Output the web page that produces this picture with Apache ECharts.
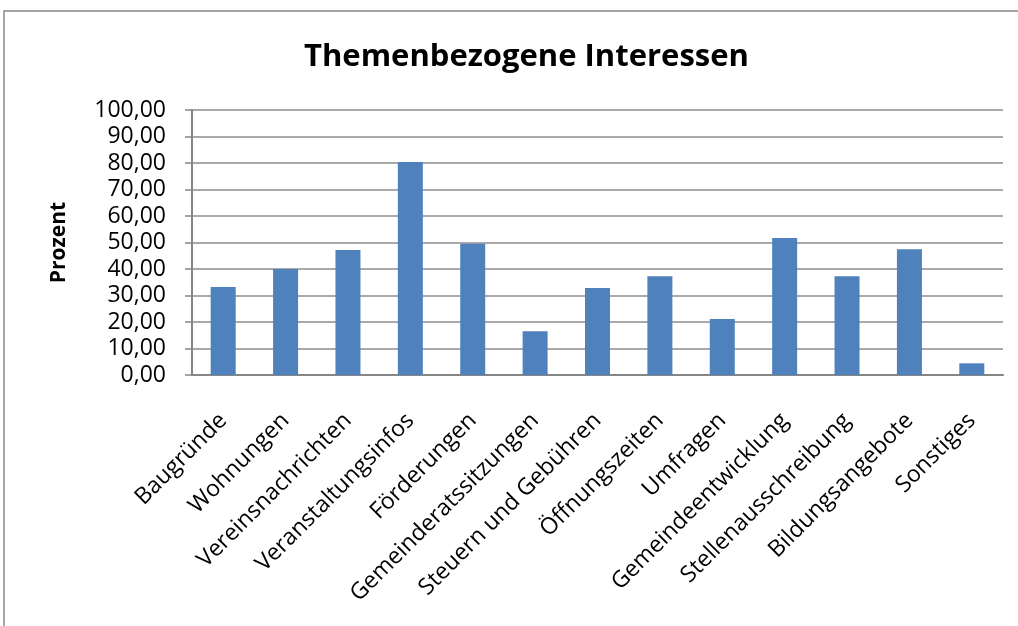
<!DOCTYPE html>
<html>
<head>
<meta charset="utf-8">
<title>Themenbezogene Interessen</title>
<script src="https://cdn.jsdelivr.net/npm/echarts@6/dist/echarts.min.js"></script>
<style>
  html, body { margin: 0; padding: 0; background: #fff; }
  #chart { width: 1018px; height: 626px; }
</style>
</head>
<body>
<div id="chart"></div>
<script>
var categories = ['Baugründe', 'Wohnungen', 'Vereinsnachrichten', 'Veranstaltungsinfos', 'Förderungen',
    'Gemeinderatssitzungen', 'Steuern und Gebühren', 'Öffnungszeiten', 'Umfragen',
    'Gemeindeentwicklung', 'Stellenausschreibung', 'Bildungsangebote', 'Sonstiges'];
var prozent = [33.2, 40.0, 47.2, 80.4, 49.5, 16.5, 32.8, 37.3, 21.1, 51.7, 37.3, 47.5, 4.4];

var dom = document.getElementById('chart');
var myChart = echarts.init(dom);
var font = 'Open Sans';

var option = {
    animation: false,
    backgroundColor: '#fff',
    title: {
        text: 'Themenbezogene Interessen',
        left: 299,
        top: 37,
        textStyle: { fontFamily: font, fontSize: 31, fontWeight: 'bold', color: '#000' }
    },
    graphic: [{
        type: 'rect',
        shape: { x: 4, y: 11, width: 1030, height: 640 },
        style: { fill: 'none', stroke: '#888', lineWidth: 1.5 },
        silent: true
    }],
    grid: { left: 192, right: 15, top: 110, bottom: 251 },
    xAxis: {
        type: 'category',
        data: categories,
        axisLine: { lineStyle: { color: '#868686', width: 2 } },
        axisTick: { show: false },
        axisLabel: {
            interval: 0,
            rotate: 45,
            margin: 42,
            fontFamily: font,
            fontSize: 23,
            color: '#000'
        }
    },
    yAxis: {
        type: 'value',
        min: 0,
        max: 100,
        interval: 10,
        name: 'Prozent',
        nameLocation: 'middle',
        nameGap: 122,
        nameRotate: 90,
        nameTextStyle: { fontFamily: font, fontSize: 21, fontWeight: 'bold', color: '#000' },
        axisLine: { show: true, lineStyle: { color: '#868686', width: 2 } },
        axisTick: { show: true, length: 7, lineStyle: { color: '#868686', width: 1.5 } },
        splitLine: { lineStyle: { color: '#8c8c8c', width: 1.5 } },
        axisLabel: {
            margin: 26,
            fontFamily: font,
            fontSize: 23,
            color: '#000',
            formatter: function (v) { return v.toFixed(2).replace('.', ','); }
        }
    },
    series: [{
        name: 'Prozent',
        type: 'bar',
        data: prozent,
        barWidth: 25,
        itemStyle: { color: '#4F81BD' }
    }]
};

if (option && typeof option === "object") {
    myChart.setOption(option, true);
}
</script>
</body>
</html>
